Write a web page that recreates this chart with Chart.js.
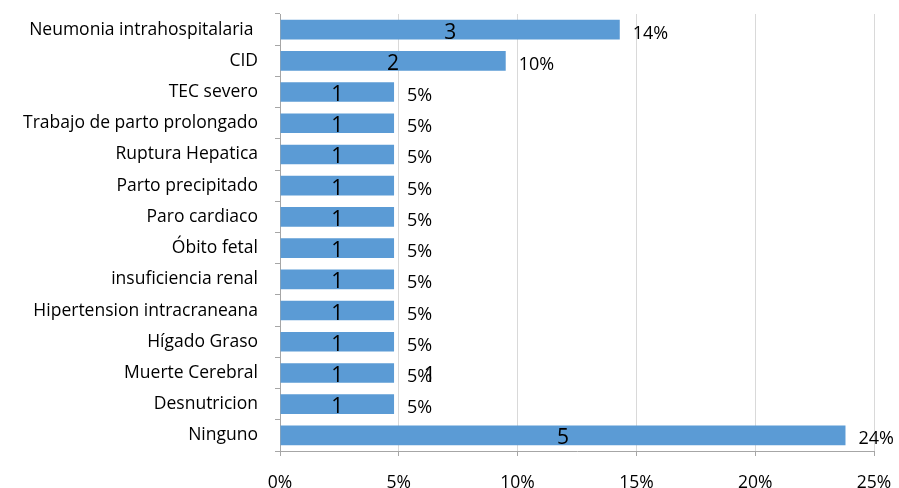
<!DOCTYPE html>
<html><head><meta charset="utf-8">
<script src="https://cdn.jsdelivr.net/npm/chart.js@4/dist/chart.umd.min.js"></script>
<style>html,body{margin:0;padding:0;background:#fff}#wrap{width:899px;height:488px;position:relative}</style>
</head><body><div id="wrap"><canvas id="c" width="899" height="488"></canvas></div>
<script>
const categories = [
  "Neumonia intrahospitalaria ", "CID", "TEC severo", "Trabajo de parto prolongado",
  "Ruptura Hepatica", "Parto precipitado", "Paro cardiaco", "Óbito fetal",
  "insuficiencia renal", "Hipertension intracraneana", "Hígado Graso",
  "Muerte Cerebral", "Desnutricion", "Ninguno"
];
const percentValues = [14.3, 9.5, 4.8, 4.8, 4.8, 4.8, 4.8, 4.8, 4.8, 4.8, 4.8, 4.8, 4.8, 23.8];
const countLabels = ["3", "2", "1", "1", "1", "1", "1", "1", "1", "1", "1", "1", "1", "5"];
const percentLabels = ["14%", "10%", "5%", "5%", "5%", "5%", "5%", "5%", "5%", "5%", "5%", "5%", "5%", "24%"];
const xTickValues = [0, 5, 10, 15, 20, 25];

const FONT = "'Open Sans', sans-serif";
const AXIS = "#a6a6a6";

const labelPlugin = {
  id: 'barLabels',
  afterDatasetsDraw(chart) {
    const ctx = chart.ctx;
    const meta = chart.getDatasetMeta(0);
    const xs = chart.scales.x;
    ctx.save();
    ctx.fillStyle = '#000';
    ctx.textBaseline = 'alphabetic';
    meta.data.forEach((bar, i) => {
      const left = bar.base, right = bar.x, y = bar.y;
      ctx.font = '21px ' + FONT;
      ctx.textAlign = 'center';
      ctx.fillText(countLabels[i], (left + right) / 2, y + 9);
      ctx.font = '18px ' + FONT;
      ctx.textAlign = 'left';
      ctx.fillText(percentLabels[i], right + 13, y + 9);
    });
    // stray count label beside "Muerte Cerebral"
    const idx = categories.indexOf("Muerte Cerebral");
    if (idx >= 0) {
      ctx.font = '21px ' + FONT;
      ctx.textAlign = 'center';
      ctx.fillText("1", xs.getPixelForValue(6.3), meta.data[idx].y + 9);
    }
    ctx.restore();
  }
};

new Chart(document.getElementById('c'), {
  type: 'bar',
  data: {
    labels: categories,
    datasets: [{
      data: percentValues,
      backgroundColor: '#5b9bd5',
      borderWidth: 0,
      categoryPercentage: 1,
      barPercentage: 0.63
    }]
  },
  options: {
    indexAxis: 'y',
    responsive: false,
    animation: false,
    events: [],
    layout: { padding: { left: 0, right: 25, top: 14, bottom: 0 } },
    plugins: { legend: { display: false }, tooltip: { enabled: false } },
    scales: {
      x: {
        min: 0, max: 25,
        afterBuildTicks(s) { s.ticks = xTickValues.map(v => ({ value: v })); },
        afterFit(s) { s.height = 37; s.paddingLeft = 0; s.paddingRight = 0; },
        ticks: {
          callback: v => v + '%',
          color: '#000',
          font: { family: FONT, size: 17.5 },
          padding: 17,
          maxRotation: 0
        },
        grid: { color: '#d9d9d9', tickColor: AXIS, tickLength: 5, lineWidth: 1 },
        border: { color: AXIS }
      },
      y: {
        afterFit(s) { s.width = 280; s.paddingTop = 0; s.paddingBottom = 0; },
        ticks: {
          color: '#000',
          font: { family: FONT, size: 17.5 },
          padding: 17,
          autoSkip: false
        },
        grid: { drawOnChartArea: false, offset: true, tickColor: AXIS, tickLength: 5 },
        border: { color: AXIS }
      }
    }
  },
  plugins: [labelPlugin]
});
</script>
</body></html>
